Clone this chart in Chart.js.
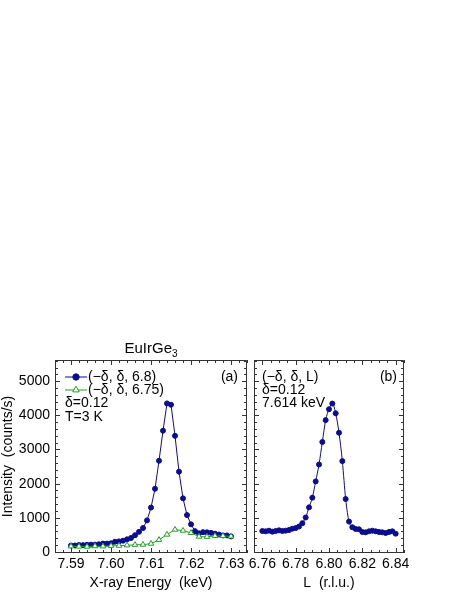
<!DOCTYPE html>
<html>
<head>
<meta charset="utf-8">
<script src="https://cdn.jsdelivr.net/npm/chart.js@4.4.1/dist/chart.umd.min.js"></script>
<style>
  html, body { margin: 0; padding: 0; background: #fff; }
  #wrap { position: relative; width: 463px; height: 599px; }
  #wrap canvas { position: absolute; left: 0; top: 0; }
</style>
</head>
<body>
<div id="wrap">
  <canvas id="chartA" width="463" height="599"></canvas>
  <canvas id="chartB" width="463" height="599"></canvas>
</div>
<script>
// panel (a): energy scans
const energy68 = [7.590, 7.591, 7.592, 7.593, 7.594, 7.595, 7.596, 7.597, 7.598, 7.599,
                  7.600, 7.601, 7.602, 7.603, 7.604, 7.605, 7.606, 7.607, 7.608, 7.609,
                  7.610, 7.611, 7.612, 7.613, 7.614, 7.615, 7.616, 7.617, 7.618, 7.619,
                  7.620, 7.621, 7.622, 7.623, 7.624, 7.625, 7.626, 7.627, 7.628, 7.629, 7.630];
const counts68 = [190, 190, 205, 200, 210, 215, 215, 225, 245, 245,
                  255, 300, 310, 330, 370, 410, 490, 590, 700, 925,
                  1300, 1850, 2670, 3550, 4350, 4310, 3400, 2350, 1570, 1080,
                  810, 610, 545, 580, 575, 560, 535, 510, 485, 485, 455];
const energy675 = [7.590, 7.592, 7.594, 7.596, 7.598, 7.600, 7.602, 7.604, 7.606, 7.608,
                   7.610, 7.612, 7.614, 7.616, 7.618, 7.620, 7.622, 7.624, 7.626, 7.628, 7.630];
const counts675 = [165, 160, 155, 170, 165, 180, 185, 195, 210, 215,
                   245, 355, 510, 655, 625, 560, 450, 445, 470, 470, 455];

// panel (b): L scan at 7.614 keV
const lValues = [6.760, 6.762, 6.764, 6.766, 6.768, 6.770, 6.772, 6.774, 6.776, 6.778,
                 6.780, 6.782, 6.784, 6.786, 6.788, 6.790, 6.792, 6.794, 6.796, 6.798,
                 6.800, 6.802, 6.804, 6.806, 6.808, 6.810, 6.812, 6.814, 6.816, 6.818,
                 6.820, 6.822, 6.824, 6.826, 6.828, 6.830, 6.832, 6.834, 6.836, 6.838, 6.840];
const countsL = [614, 604, 624, 594, 614, 634, 614, 624, 643, 682,
                 700, 745, 843, 1010, 1306, 1589, 2066, 2560, 3220, 3860,
                 4180, 4345, 4060, 3490, 2660, 1550, 890, 725, 673, 663,
                 585, 575, 604, 624, 604, 585, 575, 556, 585, 604, 536];

// tick labels
const yTicks = [0, 1000, 2000, 3000, 4000, 5000];
const xTicksA = [7.59, 7.60, 7.61, 7.62, 7.63];
const xTicksB = [6.76, 6.78, 6.80, 6.82, 6.84];

const BLUE = '#0c0c8e';
const GREEN = '#1ea21e';
const FONT = '"Liberation Sans", Arial, sans-serif';

const toPoints = (xs, ys) => xs.map((x, i) => ({ x: x, y: ys[i] }));

// box with inward ticks on all four sides
const framePlugin = {
  id: 'frame',
  afterDraw(chart, args, o) {
    const ctx = chart.ctx, a = chart.chartArea;
    const xs = chart.scales.x, ys = chart.scales.y;
    ctx.save();
    ctx.strokeStyle = '#333';
    ctx.lineWidth = 1;
    ctx.beginPath();
    ctx.rect(Math.round(a.left) + 0.5, Math.round(a.top) + 0.5,
             Math.round(a.right - a.left) - 1, Math.round(a.bottom - a.top) - 1);
    const vTick = (v, len) => {
      const p = Math.round(xs.getPixelForValue(v)) + 0.5;
      ctx.moveTo(p, a.bottom); ctx.lineTo(p, a.bottom - len);
      ctx.moveTo(p, a.top); ctx.lineTo(p, a.top + len);
    };
    const hTick = (v, len) => {
      const p = Math.round(ys.getPixelForValue(v)) + 0.5;
      ctx.moveTo(a.left, p); ctx.lineTo(a.left + len, p);
      ctx.moveTo(a.right, p); ctx.lineTo(a.right - len, p);
    };
    for (let v = Math.ceil(xs.min / o.xMinor) * o.xMinor; v <= xs.max; v += o.xMinor) vTick(v, 3);
    for (let v = Math.ceil(ys.min / o.yMinor) * o.yMinor; v <= ys.max; v += o.yMinor) hTick(v, 3);
    o.xMajor.forEach(v => vTick(v, 5));
    yTicks.forEach(v => hTick(v, 5));
    ctx.stroke();
    ctx.restore();
  }
};

// text notes and the hand-drawn key inside the panels
const notesPlugin = {
  id: 'notes',
  afterDraw(chart, args, o) {
    const ctx = chart.ctx, a = chart.chartArea;
    ctx.save();
    ctx.fillStyle = '#000';
    ctx.textBaseline = 'middle';
    ctx.font = '14px ' + FONT;
    (o.keys || []).forEach(k => {
      const y = a.top + k.dy;
      ctx.strokeStyle = k.color;
      ctx.lineWidth = 1;
      ctx.beginPath();
      ctx.moveTo(a.left + 10, y); ctx.lineTo(a.left + 32, y);
      ctx.stroke();
      ctx.fillStyle = k.fill;
      Chart.helpers.drawPoint(ctx, { pointStyle: k.style, radius: k.radius, borderWidth: 1, rotation: 0 },
                              a.left + 21, y);
      ctx.fillStyle = '#000';
      ctx.textAlign = 'left';
      ctx.fillText(k.text, a.left + 33, y);
    });
    (o.lines || []).forEach(t => {
      ctx.textAlign = t.align || 'left';
      const x = t.align === 'right' ? a.right - t.dx : a.left + t.dx;
      ctx.fillText(t.text, x, a.top + t.dy);
    });
    if (o.title) {
      ctx.font = '15px ' + FONT;
      const w1 = ctx.measureText(o.title).width;
      ctx.font = '10px ' + FONT;
      const w2 = ctx.measureText(o.sub).width;
      const x0 = (a.left + a.right) / 2 - (w1 + w2) / 2;
      const y = a.top - 11;
      ctx.textAlign = 'left';
      ctx.font = '15px ' + FONT;
      ctx.fillText(o.title, x0, y);
      ctx.font = '10px ' + FONT;
      ctx.fillText(o.sub, x0 + w1, y + 5);
    }
    ctx.restore();
  }
};

function xScale(min, max, ticks, title) {
  return {
    type: 'linear',
    min: min,
    max: max,
    grid: { display: false, drawTicks: false },
    border: { display: false },
    afterBuildTicks: s => { s.ticks = ticks.map(v => ({ value: v })); },
    afterFit: s => { s.height = 46; },
    ticks: {
      padding: 3, color: '#000', maxRotation: 0, autoSkip: false,
      font: { family: FONT, size: 14 },
      callback: v => v.toFixed(2)
    },
    title: {
      display: true, text: title, color: '#000',
      font: { family: FONT, size: 14 },
      padding: { top: 0, bottom: 7 }
    }
  };
}

const yMin = -30, yMax = 5620;

new Chart(document.getElementById('chartA'), {
  type: 'line',
  data: {
    datasets: [{
      label: '(−δ, δ, 6.75)',
      data: toPoints(energy675, counts675),
      borderColor: GREEN,
      borderWidth: 1,
      pointStyle: 'triangle',
      pointRadius: 3.2,
      pointBackgroundColor: '#fff',
      pointBorderColor: GREEN,
      pointBorderWidth: 1,
      order: 0
    }, {
      label: '(−δ, δ, 6.8)',
      data: toPoints(energy68, counts68),
      borderColor: BLUE,
      borderWidth: 1,
      pointRadius: 2.5,
      pointBackgroundColor: BLUE,
      pointBorderColor: BLUE,
      pointBorderWidth: 1,
      order: 1
    }]
  },
  options: {
    responsive: false,
    devicePixelRatio: 1,
    animation: false,
    layout: { padding: { left: 0, top: 360, right: 216, bottom: 0 } },
    scales: {
      x: xScale(7.586, 7.634, xTicksA, 'X-ray Energy  (keV)'),
      y: {
        type: 'linear',
        min: yMin,
        max: yMax,
        grid: { display: false, drawTicks: false },
        border: { display: false },
        afterBuildTicks: s => { s.ticks = yTicks.map(v => ({ value: v })); },
        afterFit: s => { s.width = 55; },
        ticks: {
          padding: 5, color: '#000', font: { family: FONT, size: 14 },
          callback: v => String(v)
        },
        title: {
          display: true, text: 'Intensity  (counts/s)', color: '#000',
          font: { family: FONT, size: 14 }, padding: 0
        }
      }
    },
    plugins: {
      legend: { display: false },
      tooltip: { enabled: false },
      frame: { xMajor: xTicksA, xMinor: 0.002, yMinor: 200 },
      notes: {
        title: 'EuIrGe', sub: '3',
        keys: [
          { text: '(−δ, δ, 6.8)', dy: 17, color: BLUE, fill: BLUE, style: 'circle', radius: 3.2 },
          { text: '(−δ, δ, 6.75)', dy: 30, color: GREEN, fill: '#fff', style: 'triangle', radius: 3.8 }
        ],
        lines: [
          { text: 'δ=0.12', dx: 10, dy: 43 },
          { text: 'T=3 K', dx: 10, dy: 57 },
          { text: '(a)', dx: 9, dy: 17, align: 'right' }
        ]
      }
    }
  },
  plugins: [framePlugin, notesPlugin]
});

new Chart(document.getElementById('chartB'), {
  type: 'line',
  data: {
    datasets: [{
      label: '(−δ, δ, L)',
      data: toPoints(lValues, countsL),
      borderColor: BLUE,
      borderWidth: 1,
      cubicInterpolationMode: 'monotone',
      pointRadius: 2.5,
      pointBackgroundColor: BLUE,
      pointBorderColor: BLUE,
      pointBorderWidth: 1
    }]
  },
  options: {
    responsive: false,
    devicePixelRatio: 1,
    animation: false,
    layout: { padding: { left: 254, top: 360, right: 59, bottom: 0 } },
    scales: {
      x: xScale(6.755, 6.845, xTicksB, 'L  (r.l.u.)'),
      y: { type: 'linear', min: yMin, max: yMax, display: false }
    },
    plugins: {
      legend: { display: false },
      tooltip: { enabled: false },
      frame: { xMajor: xTicksB, xMinor: 0.005, yMinor: 200 },
      notes: {
        lines: [
          { text: '(−δ, δ, L)', dx: 8, dy: 17 },
          { text: 'δ=0.12', dx: 8, dy: 30 },
          { text: '7.614 keV', dx: 8, dy: 43 },
          { text: '(b)', dx: 7, dy: 17, align: 'right' }
        ]
      }
    }
  },
  plugins: [framePlugin, notesPlugin]
});
</script>
</body>
</html>
